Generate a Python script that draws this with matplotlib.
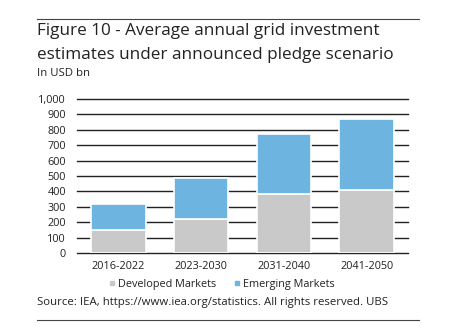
import matplotlib
matplotlib.use("Agg")
import matplotlib.pyplot as plt
from matplotlib.lines import Line2D

periods = ["2016-2022", "2023-2030", "2031-2040", "2041-2050"]
developed = [150, 220, 380, 410]
emerging = [165, 265, 393, 458]
y_ticks = [0, 100, 200, 300, 400, 500, 600, 700, 800, 900, 1000]

GREY = "#C9C9C9"
BLUE = "#6DB5E0"
TEXT = "#222222"

plt.rcParams["font.family"] = ["Open Sans", "DejaVu Sans"]

W, H = 452, 332
fig = plt.figure(figsize=(W / 100, H / 100), dpi=100)

ax = fig.add_axes([77 / W, 1 - 253 / H, 331 / W, 154 / H])
x = list(range(len(periods)))
ax.bar(x, developed, width=0.66, color=GREY, edgecolor="white", linewidth=1.2, zorder=3)
ax.bar(x, emerging, width=0.66, bottom=developed, color=BLUE, edgecolor="white",
       linewidth=1.2, zorder=3)

ax.set_xlim(-0.5, 3.5)
ax.set_ylim(0, 1000)
ax.set_yticks(y_ticks)
ax.set_yticklabels([f"{v:,}" for v in y_ticks])
for v in y_ticks:
    ax.axhline(v, color="#222222", linewidth=1.0, zorder=1, clip_on=False)
ax.set_xticks(x)
ax.set_xticklabels(periods)
for s in ax.spines.values():
    s.set_visible(False)
ax.tick_params(axis="both", length=0, labelsize=7.8, colors=TEXT)
ax.tick_params(axis="y", pad=8)
ax.tick_params(axis="x", pad=6)

handles = [
    Line2D([], [], marker="s", linestyle="none", markersize=3.5, color=GREY, label="Developed Markets"),
    Line2D([], [], marker="s", linestyle="none", markersize=3.5, color=BLUE, label="Emerging Markets"),
]
fig.legend(handles=handles, loc="center", bbox_to_anchor=(222 / W, 1 - 284 / H), ncol=2,
           frameon=False, fontsize=7.8, handlelength=0.6, handletextpad=0.25,
           columnspacing=1.6, labelcolor=TEXT)

# header and footer rules
fig.add_artist(Line2D([37 / W, 419 / W], [1 - 19 / H, 1 - 19 / H], color="#444444", linewidth=0.8))
fig.add_artist(Line2D([37 / W, 419 / W], [1 - 320 / H, 1 - 320 / H], color="#444444", linewidth=0.8))

fig.text(37 / W, 1 - 31 / H, "Figure 10 - Average annual grid investment", fontsize=12.3,
         color=TEXT, va="center", ha="left")
fig.text(37 / W, 1 - 55 / H, "estimates under announced pledge scenario", fontsize=12.3,
         color=TEXT, va="center", ha="left")
fig.text(37 / W, 1 - 73 / H, "In USD bn", fontsize=8.2, color=TEXT, va="center", ha="left")
fig.text(37 / W, 1 - 302 / H, "Source: IEA, https://www.iea.org/statistics. All rights reserved. UBS",
         fontsize=8.2, color=TEXT, va="center", ha="left")

fig.savefig("out.png", dpi=100, facecolor="white")
